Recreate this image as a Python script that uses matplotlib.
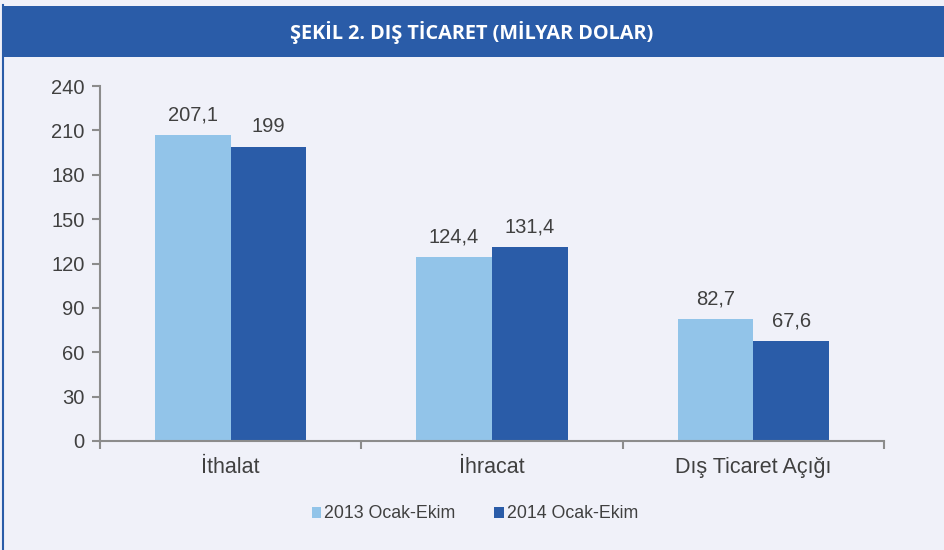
import matplotlib.pyplot as plt
import matplotlib.patches as mpatches
import numpy as np

categories = ['İthalat', 'İhracat', 'Dış Ticaret Açığı']
values_2013 = [207.1, 124.4, 82.7]
values_2014 = [199, 131.4, 67.6]
labels_2013 = ['207,1', '124,4', '82,7']
labels_2014 = ['199', '131,4', '67,6']
series_names = ['2013 Ocak-Ekim', '2014 Ocak-Ekim']
yticks = [0, 30, 60, 90, 120, 150, 180, 210, 240]

light = '#92c4e9'
dark = '#2a5ca8'
bg = '#f0f1f9'
txt = '#404040'
axis_gray = '#8c8c8c'

plt.rcParams['font.family'] = ['Liberation Sans', 'DejaVu Sans']

fig = plt.figure(figsize=(9.44, 5.5), dpi=100, facecolor=bg)

# title band
band = mpatches.Rectangle((0.004, 1 - 57 / 550), 0.996, 51 / 550, transform=fig.transFigure,
                          facecolor=dark, edgecolor='none')
fig.patches.append(band)
fig.text(0.5, 1 - 32 / 550, 'ŞEKİL 2. DIŞ TİCARET (MİLYAR DOLAR)', color='white',
         fontsize=14.3, fontweight='bold', family=['Open Sans', 'DejaVu Sans'],
         ha='center', va='center')
# left border line
fig.add_artist(plt.Line2D([0.003, 0.003], [0, 1 - 5 / 550], transform=fig.transFigure,
                          color=dark, lw=1.5))

ax = fig.add_axes([100 / 944, 1 - 441 / 550, 784 / 944, 355 / 550])
ax.set_facecolor(bg)

x = np.arange(len(categories))
w = 0.29
b1 = ax.bar(x - w / 2, values_2013, w, color=light, label=series_names[0])
b2 = ax.bar(x + w / 2, values_2014, w, color=dark, label=series_names[1])

for rect, lab in zip(b1, labels_2013):
    ax.text(rect.get_x() + rect.get_width() / 2, rect.get_height() + 7, lab,
            ha='center', va='bottom', fontsize=14.5, color=txt)
for rect, lab in zip(b2, labels_2014):
    ax.text(rect.get_x() + rect.get_width() / 2, rect.get_height() + 7, lab,
            ha='center', va='bottom', fontsize=14.5, color=txt)

ax.set_xlim(-0.5, 2.5)
ax.set_ylim(0, 240)
ax.set_yticks(yticks)
ax.set_yticklabels([str(t) for t in yticks], fontsize=14.5, color=txt)
ax.tick_params(axis='y', direction='out', length=6, width=1.5, color=axis_gray, pad=5)

ax.set_xticks([-0.5, 0.5, 1.5, 2.5])
ax.set_xticklabels([])
ax.tick_params(axis='x', direction='out', length=6, width=1.5, color=axis_gray)
for xi, c in zip(x, categories):
    ax.text(xi, -11, c, ha='center', va='top', fontsize=15.5, color=txt,
            transform=ax.transData)

for s in ['top', 'right']:
    ax.spines[s].set_visible(False)
for s in ['left', 'bottom']:
    ax.spines[s].set_color(axis_gray)
    ax.spines[s].set_linewidth(1.5)

leg = fig.legend(handles=[b1, b2], labels=series_names, loc='center',
                 bbox_to_anchor=(0.503, 1 - 514 / 550), ncol=2, frameon=False,
                 fontsize=12.8, handlelength=0.55, handleheight=0.55, handletextpad=0.15,
                 columnspacing=2.2)
for t in leg.get_texts():
    t.set_color(txt)

fig.savefig('out.png', dpi=100, facecolor=bg)
